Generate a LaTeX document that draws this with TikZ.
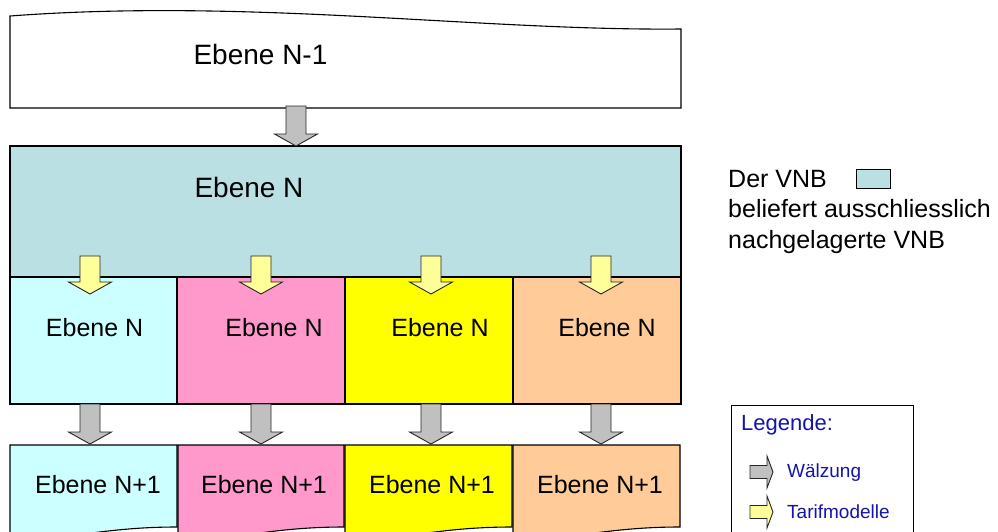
\documentclass[tikz,border=0pt]{standalone}
\usepackage{fontspec}
\setmainfont{Liberation Sans}
\definecolor{lvl}{RGB}{187,224,227}
\definecolor{ccyan}{RGB}{204,255,255}
\definecolor{cpink}{RGB}{255,153,204}
\definecolor{cyel}{RGB}{255,255,0}
\definecolor{cpeach}{RGB}{255,204,153}
\definecolor{agray}{RGB}{192,192,192}
\definecolor{ayel}{RGB}{255,255,153}
\definecolor{legblue}{RGB}{20,20,170}
\begin{document}
\begin{tikzpicture}[x=1pt,y=-1pt,
  boxline/.style={draw=black,line width=1.1pt},
  lbl/.style={anchor=base,inner sep=0pt,font=\fontsize{25}{30}\selectfont},
  biglbl/.style={anchor=base,inner sep=0pt,font=\fontsize{28}{33}\selectfont},
  sidelbl/.style={anchor=base west,inner sep=0pt,font=\fontsize{25}{30}\selectfont},
  leglbl/.style={anchor=base west,inner sep=0pt,text=legblue},
  arrowline/.style={draw=black!85,line width=0.9pt},
  pics/darrow/.style args={#1/#2}{code={
     \path[arrowline,fill=#2] (-10,0) -- (-10,#1-12) -- (-21.5,#1-12) -- (0,#1)
        -- (21.5,#1-12) -- (10,#1-12) -- (10,0) -- cycle;}},
  pics/rarrow/.style={code={
     \path[arrowline,fill=#1] (0,-6.5) -- (17,-6.5) -- (17,-16) -- (23,0)
        -- (17,16) -- (17,6.5) -- (0,6.5) -- cycle;}},
  pics/docbox/.style args={#1/#2}{code={
     \path[boxline,fill=#2] (0,0) -- (#1,0) -- (#1,82)
        .. controls (#1*0.72,82) and (#1*0.48,87) .. (0,101) -- cycle;}},
]
\useasboundingbox (0,0) rectangle (998,531);
\fill[white] (0,0) rectangle (998,531);

% level N-1 (wavy top)
\path[boxline,fill=white] (10,108) -- (681,108) -- (681,29)
   .. controls (480,31) and (250,-2) .. (10,16) -- cycle;
\node[biglbl] (n1) at (260.5,64) {Ebene N-1};

% level N
\path[boxline,fill=lvl] (10,146) rectangle (681,277);
\node[biglbl] (n0) at (249,197) {Ebene N};

% row of level N
\path[boxline,fill=ccyan]  (10,277)  rectangle (177,404);
\path[boxline,fill=cpink]  (177,277) rectangle (345,404);
\path[boxline,fill=cyel]   (345,277) rectangle (513,404);
\path[boxline,fill=cpeach] (513,277) rectangle (681,404);
\node[lbl] (a1) at (94.6,336) {Ebene N};
\node[lbl] (a2) at (274,336) {Ebene N};
\node[lbl] (a3) at (440,336) {Ebene N};
\node[lbl] (a4) at (607,336) {Ebene N};

% row of level N+1
\pic (b1box) at (10,445)  {docbox={167/ccyan}};
\pic (b2box) at (178,445) {docbox={166/cpink}};
\pic (b3box) at (345,445) {docbox={167/cyel}};
\pic (b4box) at (513,445) {docbox={167/cpeach}};
\node[lbl] (b1) at (98,493)  {Ebene N+1};
\node[lbl] (b2) at (264,493) {Ebene N+1};
\node[lbl] (b3) at (432,493) {Ebene N+1};
\node[lbl] (b4) at (600,493) {Ebene N+1};

% arrows
\pic (g0) at (296,106) {darrow={40/agray}};
\pic (y1) at (90,256)  {darrow={38/ayel}};
\pic (y2) at (261,256) {darrow={38/ayel}};
\pic (y3) at (431,256) {darrow={38/ayel}};
\pic (y4) at (601,256) {darrow={38/ayel}};
\pic (g1) at (90,404)  {darrow={40/agray}};
\pic (g2) at (261,404) {darrow={40/agray}};
\pic (g3) at (431,404) {darrow={40/agray}};
\pic (g4) at (601,404) {darrow={40/agray}};

% side explanation
\node[sidelbl] (d1) at (728,187) {Der VNB};
\path[draw=black,line width=1pt,fill=lvl] (856,169) rectangle (890,188);
\node[sidelbl] (d2) at (728,217) {beliefert ausschliesslich};
\node[sidelbl] (d3) at (728,248) {nachgelagerte VNB};

% legend
\path[draw=black,line width=1pt,fill=white] (731,405) rectangle (913,545);
\node[leglbl,font=\fontsize{22}{26}\selectfont] (l0) at (741,430) {Legende:};
\pic (lg) at (750,472) {rarrow=agray};
\node[leglbl,font=\fontsize{19}{23}\selectfont] (l1) at (787,477) {Wälzung};
\pic (ly) at (750,512) {rarrow=ayel};
\node[leglbl,font=\fontsize{19}{23}\selectfont] (l2) at (787,518) {Tarifmodelle};
\end{tikzpicture}
\end{document}
